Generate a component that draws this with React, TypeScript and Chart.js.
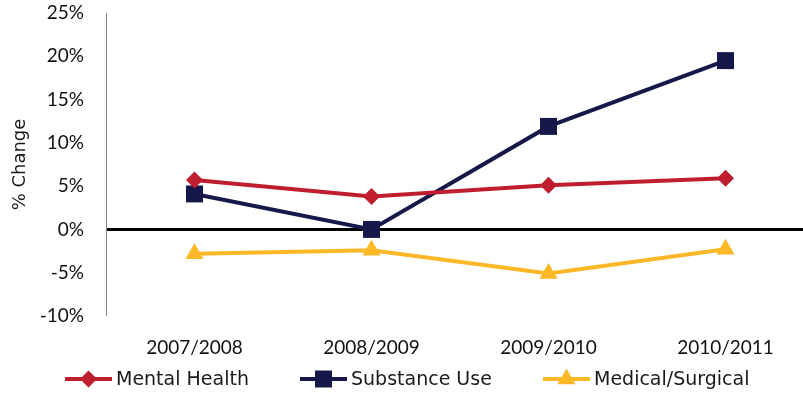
import React, { useEffect, useRef } from "react";
import { Chart, registerables } from "chart.js";
import { drawPoint } from "chart.js/helpers";

Chart.register(...registerables);

const categories = ["2007/2008", "2008/2009", "2009/2010", "2010/2011"];
const mentalHealth = [5.7, 3.8, 5.1, 5.9];
const substanceUse = [4.1, 0.0, 11.9, 19.5];
const medicalSurgical = [-2.8, -2.4, -5.1, -2.3];
const seriesNames = ["Mental Health", "Substance Use", "Medical/Surgical"];
const yTicks = [-10, -5, 0, 5, 10, 15, 20, 25];

const RED = "#BE1E2D";
const NAVY = "#16184A";
const YELLOW = "#FDB827";

const legendPlugin = {
  id: "lineLegend",
  afterDraw(chart: any) {
    const ctx = chart.ctx;
    const y = 379;
    const starts = [65, 300, 543];
    ctx.save();
    chart.data.datasets.forEach((ds: any, i: number) => {
      const x0 = starts[i];
      const x1 = x0 + 47;
      ctx.strokeStyle = ds.borderColor;
      ctx.lineWidth = 4;
      ctx.beginPath();
      ctx.moveTo(x0, y);
      ctx.lineTo(x1, y);
      ctx.stroke();
      ctx.fillStyle = ds.pointBackgroundColor;
      ctx.strokeStyle = ds.pointBorderColor;
      drawPoint(
        ctx,
        { pointStyle: ds.pointStyle, radius: ds.pointRadius, borderWidth: 0, rotation: 0 },
        (x0 + x1) / 2,
        y
      );
      ctx.fillStyle = "#1a1a1a";
      ctx.font = "19px 'DejaVu Sans'";
      ctx.textBaseline = "middle";
      ctx.textAlign = "left";
      ctx.fillText(ds.label, x1 + 4, y + 1);
    });
    ctx.restore();
  },
};

export default function App() {
  const ref = useRef<HTMLCanvasElement>(null);
  useEffect(() => {
    if (!ref.current) return;
    const mk = (label: string, data: number[], color: string, style: string, r: number) => ({
      label,
      data,
      borderColor: color,
      backgroundColor: color,
      pointBackgroundColor: color,
      pointBorderColor: color,
      pointBorderWidth: 0,
      borderWidth: 4,
      pointStyle: style,
      pointRadius: r,
      pointHoverRadius: r,
      tension: 0,
    });
    const chart = new Chart(ref.current, {
      type: "line",
      data: {
        labels: categories,
        datasets: [
          mk(seriesNames[0], mentalHealth, RED, "rectRot", 8.5),
          mk(seriesNames[1], substanceUse, NAVY, "rect", 12),
          mk(seriesNames[2], medicalSurgical, YELLOW, "triangle", 10.5),
        ],
      },
      options: {
        responsive: false,
        animation: false,
        layout: { padding: { top: 13, right: 8, bottom: 0, left: 0 } },
        plugins: { legend: { display: false }, tooltip: { enabled: false }, title: { display: false } },
        scales: {
          x: {
            type: "category",
            offset: true,
            grid: { display: false, drawTicks: false },
            border: { display: false },
            ticks: { padding: 20, color: "#111", font: { family: "Lato", size: 19 }, maxRotation: 0 },
            afterFit: (s: any) => {
              s.height = 78;
              s.paddingLeft = 0;
              s.paddingRight = 0;
            },
          },
          y: {
            min: -10,
            max: 25,
            afterBuildTicks: (s: any) => {
              s.ticks = yTicks.map((v) => ({ value: v }));
            },
            grid: {
              drawTicks: false,
              color: (c: any) => (c.tick && c.tick.value === 0 ? "#000" : "rgba(0,0,0,0)"),
              lineWidth: (c: any) => (c.tick && c.tick.value === 0 ? 3 : 0),
            },
            border: { display: true, color: "#8a8a8a", width: 1 },
            ticks: {
              padding: 22,
              color: "#111",
              font: { family: "Lato", size: 19 },
              callback: (v: any) => `${v}%`,
            },
            title: {
              display: true,
              text: "% Change",
              color: "#1a1a1a",
              font: { family: "DejaVu Sans", size: 18 },
              padding: { top: 10, bottom: 0 },
            },
            afterFit: (s: any) => {
              s.width = 106;
              s.paddingTop = 0;
              s.paddingBottom = 0;
            },
          },
        },
      },
      plugins: [legendPlugin],
    } as any);
    return () => chart.destroy();
  }, []);
  return (
    <div style={{ position: "fixed", left: 0, top: 0, width: 803, height: 394, overflow: "hidden", background: "#fff" }}>
      <canvas ref={ref} width={826} height={394} style={{ width: 826, height: 394, display: "block" }} />
    </div>
  );
}
